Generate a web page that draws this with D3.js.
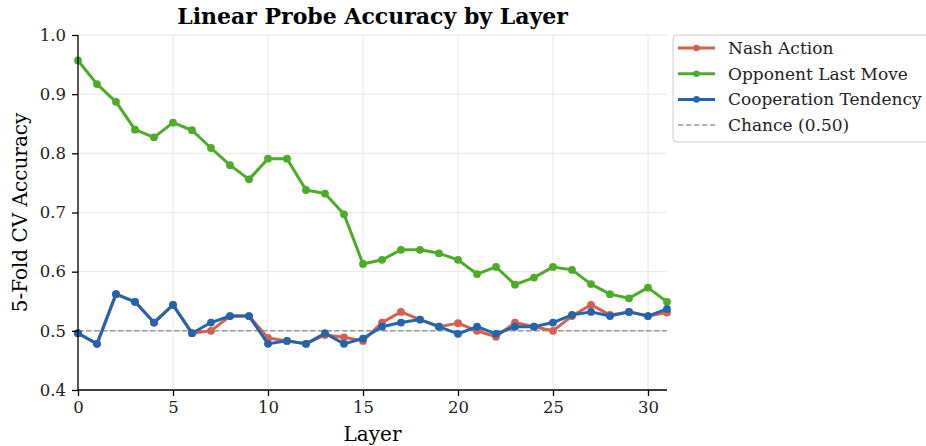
<!DOCTYPE html>
<html>
<head>
<meta charset="utf-8">
<script src="https://cdn.jsdelivr.net/npm/d3@7"></script>
<style>
  body { margin: 0; background: #fff; }
  text { font-family: "DejaVu Serif", serif; }
</style>
</head>
<body>
<div id="chart"></div>
<script>
var layers = d3.range(0, 32);
var nashAction = [0.496, 0.478, 0.562, 0.549, 0.514, 0.544, 0.496, 0.500, 0.525, 0.525,
  0.488, 0.483, 0.478, 0.493, 0.489, 0.483, 0.514, 0.532, 0.519, 0.507,
  0.513, 0.500, 0.490, 0.514, 0.507, 0.500, 0.525, 0.544, 0.527, 0.532, 0.525, 0.531];
var opponentLastMove = [0.957, 0.917, 0.887, 0.840, 0.827, 0.852, 0.839, 0.809, 0.780, 0.756,
  0.791, 0.791, 0.738, 0.732, 0.697, 0.613, 0.620, 0.637, 0.637, 0.631,
  0.620, 0.596, 0.608, 0.578, 0.590, 0.608, 0.603, 0.579, 0.562, 0.555, 0.573, 0.549];
var cooperationTendency = [0.496, 0.478, 0.562, 0.549, 0.514, 0.544, 0.496, 0.514, 0.525, 0.525,
  0.478, 0.483, 0.478, 0.496, 0.478, 0.487, 0.507, 0.514, 0.519, 0.507,
  0.495, 0.507, 0.495, 0.507, 0.507, 0.514, 0.527, 0.532, 0.525, 0.532, 0.525, 0.537];
var chance = 0.5;
var xTicks = [0, 5, 10, 15, 20, 25, 30];
var yTicks = [0.4, 0.5, 0.6, 0.7, 0.8, 0.9, 1.0];

var series = [
  {name: "Nash Action", values: nashAction, color: "#d6604d"},
  {name: "Opponent Last Move", values: opponentLastMove, color: "#4dac26"},
  {name: "Cooperation Tendency", values: cooperationTendency, color: "#2166ac"}
];

var width = 926, height = 446;
var margin = {top: 35, right: 259, bottom: 56, left: 78};
var w = width - margin.left - margin.right;
var h = height - margin.top - margin.bottom;

var svg = d3.select("#chart").append("svg")
  .attr("width", width)
  .attr("height", height);

var g = svg.append("g")
  .attr("transform", "translate(" + margin.left + "," + margin.top + ")");

var x = d3.scaleLinear().domain([0, 31]).range([0, w]);
var y = d3.scaleLinear().domain([0.4, 1.0]).range([h, 0]);

// grid
g.append("g").selectAll("line.vg").data(xTicks).enter().append("line")
  .attr("x1", function(d) { return x(d); }).attr("x2", function(d) { return x(d); })
  .attr("y1", 0).attr("y2", h)
  .attr("stroke", "#e6e6e6").attr("stroke-width", 1);
g.append("g").selectAll("line.hg").data(yTicks).enter().append("line")
  .attr("x1", 0).attr("x2", w)
  .attr("y1", function(d) { return y(d); }).attr("y2", function(d) { return y(d); })
  .attr("stroke", "#e6e6e6").attr("stroke-width", 1);

// chance line
g.append("line")
  .attr("x1", 0).attr("x2", w)
  .attr("y1", y(chance)).attr("y2", y(chance))
  .attr("stroke", "#999").attr("stroke-width", 1.5)
  .attr("stroke-dasharray", "5.5,2.5");

var line = d3.line()
  .x(function(d, i) { return x(layers[i]); })
  .y(function(d) { return y(d); });

series.forEach(function(s) {
  g.append("path")
    .datum(s.values)
    .attr("fill", "none")
    .attr("stroke", s.color)
    .attr("stroke-width", 3)
    .attr("stroke-linejoin", "round")
    .attr("d", line);
  g.append("g").selectAll("circle").data(s.values).enter().append("circle")
    .attr("cx", function(d, i) { return x(layers[i]); })
    .attr("cy", function(d) { return y(d); })
    .attr("r", 3.9)
    .attr("fill", s.color);
});

// axes
var xAxis = g.append("g")
  .attr("transform", "translate(0," + h + ")")
  .call(d3.axisBottom(x).tickValues(xTicks).tickSize(6).tickPadding(5));
var yAxis = g.append("g")
  .call(d3.axisLeft(y).tickValues(yTicks).tickSize(6).tickPadding(6).tickFormat(d3.format(".1f")));
[xAxis, yAxis].forEach(function(a) {
  a.selectAll("path").attr("stroke", "#000").attr("stroke-width", 1.3);
  a.selectAll("line").attr("stroke", "#000").attr("stroke-width", 1.3);
  a.selectAll("text").attr("font-family", "DejaVu Serif").attr("font-size", 16.5).attr("fill", "#222");
});
xAxis.select("path").attr("d", "M0,0H" + w);
yAxis.select("path").attr("d", "M0," + h + "V0");

// labels
svg.append("text")
  .attr("x", margin.left + w / 2).attr("y", 24)
  .attr("text-anchor", "middle")
  .attr("font-size", 22).attr("font-weight", "bold")
  .text("Linear Probe Accuracy by Layer");
svg.append("text")
  .attr("x", margin.left + w / 2).attr("y", 441)
  .attr("text-anchor", "middle")
  .attr("font-size", 20)
  .text("Layer");
svg.append("text")
  .attr("transform", "translate(27," + (margin.top + h / 2) + ") rotate(-90)")
  .attr("text-anchor", "middle")
  .attr("font-size", 20)
  .text("5-Fold CV Accuracy");

// legend
var legend = svg.append("g").attr("transform", "translate(673,35)");
legend.append("rect")
  .attr("x", 0).attr("y", 0).attr("width", 262).attr("height", 107)
  .attr("rx", 4)
  .attr("fill", "#fff").attr("stroke", "#ccc").attr("stroke-width", 1);
var items = series.map(function(s) { return {name: s.name, color: s.color, dash: null}; });
items.push({name: "Chance (0.50)", color: "#999", dash: "5.5,2.5"});
items.forEach(function(it, i) {
  var yy = 13 + i * 25.7;
  legend.append("line")
    .attr("x1", 5).attr("x2", 42).attr("y1", yy).attr("y2", yy)
    .attr("stroke", it.color)
    .attr("stroke-width", it.dash ? 1.5 : 3)
    .attr("stroke-dasharray", it.dash);
  if (!it.dash) {
    legend.append("circle").attr("cx", 23.5).attr("cy", yy).attr("r", 3.3).attr("fill", it.color);
  }
  legend.append("text")
    .attr("x", 55).attr("y", yy + 6)
    .attr("font-size", 17).attr("fill", "#222")
    .text(it.name);
});
</script>
</body>
</html>
